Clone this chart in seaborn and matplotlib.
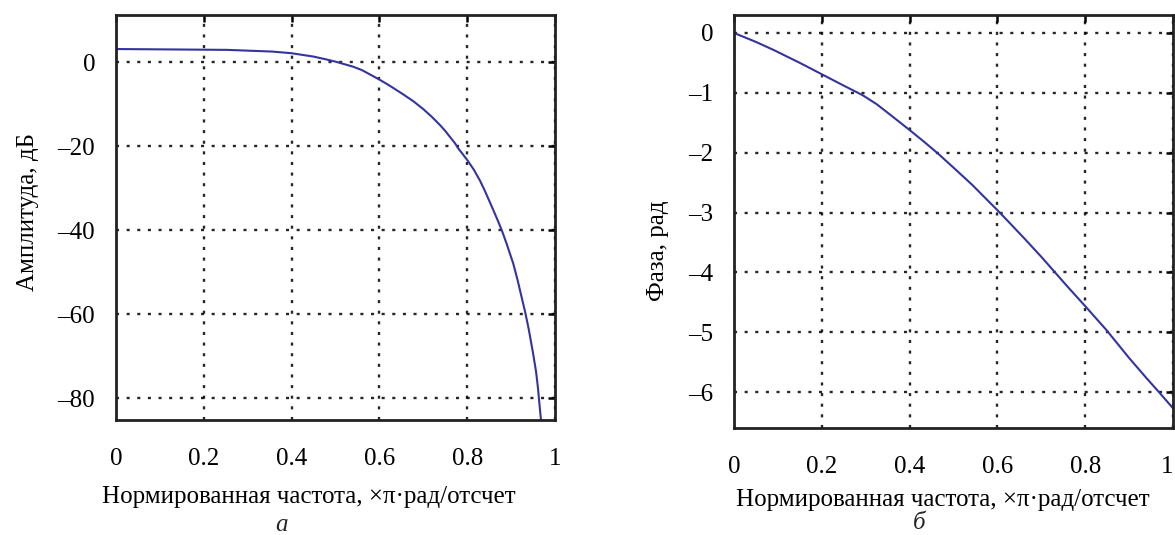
import numpy as np
import matplotlib
matplotlib.use('Agg')
import matplotlib.pyplot as plt
import seaborn as sns

# amplitude response
freq_amp = [0.0, 0.253, 0.355, 0.40, 0.45, 0.48, 0.50, 0.54, 0.56, 0.597, 0.62, 0.65,
            0.677, 0.70, 0.72, 0.738, 0.75, 0.772, 0.78, 0.80, 0.815, 0.829, 0.84,
            0.856, 0.87, 0.879, 0.89, 0.905, 0.915, 0.932, 0.94, 0.95, 0.957, 0.961, 0.968]
amp_db = [3.1, 2.9, 2.5, 2.1, 1.3, 0.6, 0.1, -1.1, -1.9, -4.0, -5.4, -7.4,
          -9.3, -11.2, -13.1, -15.0, -16.4, -19.3, -20.6, -23.3, -25.6, -28.2, -30.6,
          -34.4, -37.8, -40.1, -43.3, -48.0, -52.0, -59.5, -63.5, -69.3, -73.8, -77.4, -85.2]

# phase response
freq_ph = [0.0, 0.05, 0.089, 0.15, 0.2, 0.25, 0.293, 0.325, 0.36, 0.398, 0.43, 0.464,
           0.50, 0.543, 0.57, 0.6, 0.63, 0.661, 0.70, 0.73, 0.76, 0.802, 0.848,
           0.90, 0.94, 0.968, 1.0]
phase_rad = [0.0, -0.15, -0.28, -0.5, -0.69, -0.88, -1.04, -1.19, -1.39, -1.61, -1.80, -2.01,
             -2.25, -2.54, -2.74, -2.96, -3.19, -3.43, -3.74, -3.99, -4.24, -4.58, -4.96,
             -5.43, -5.77, -6.0, -6.27]

x_ticks = [0, 0.2, 0.4, 0.6, 0.8, 1]
x_ticklabels = ['0', '0.2', '0.4', '0.6', '0.8', '1']
amp_ticks = [0, -20, -40, -60, -80]
amp_ticklabels = ['0', '\u201320', '\u201340', '\u201360', '\u201380']
ph_ticks = [0, -1, -2, -3, -4, -5, -6]
ph_ticklabels = ['0', '\u20131', '\u20132', '\u20133', '\u20134', '\u20135', '\u20136']

xlabel = 'Нормированная частота, \u00d7\u03c0\u00b7рад/отсчет'

sns.set_theme(style='white')
plt.rcParams['font.family'] = ['Liberation Serif', 'DejaVu Serif']

line_color = '#34349e'
fs = 18

fig = plt.figure(figsize=(11.75, 5.35), dpi=100)
ax1 = fig.add_axes([116 / 1175, 1 - 420 / 535, 439 / 1175, 405 / 535])
ax2 = fig.add_axes([734 / 1175, 1 - 428 / 535, 439 / 1175, 413 / 535])

sns.lineplot(x=freq_amp, y=amp_db, ax=ax1, color=line_color, linewidth=1.5)
sns.lineplot(x=freq_ph, y=phase_rad, ax=ax2, color=line_color, linewidth=1.5)

ax1.set_xlim(0, 1)
ax1.set_ylim(-85.2, 11.2)
ax1.set_yticks(amp_ticks)
ax1.set_yticklabels(amp_ticklabels)

ax2.set_xlim(0, 1)
ax2.set_ylim(-6.6, 0.3)
ax2.set_yticks(ph_ticks)
ax2.set_yticklabels(ph_ticklabels)

for ax in (ax1, ax2):
    ax.set_xticks(x_ticks)
    ax.set_xticklabels(x_ticklabels)
    ax.grid(True, color='black', linestyle=(0, (1.3, 3.2)), linewidth=1.7, alpha=0.85)
    ax.tick_params(axis='both', direction='in', top=True, right=True,
                   length=5, width=1.8, labelsize=fs, color='black', labelcolor='black')
    ax.tick_params(axis='x', pad=20)
    ax.tick_params(axis='y', pad=15)
    for sp in ax.spines.values():
        sp.set_color('#222222')
        sp.set_linewidth(2)
    ax.set_xlabel(xlabel, fontsize=fs, color='black')
    ax.xaxis.label.set_va('center')
    ax.yaxis.label.set_va('center')

# keep the last phase tick label inside the figure
ax2.get_xticklabels()[-1].set_ha('right')

ax1.set_ylabel('Амплитуда, дБ', fontsize=fs, color='black')
ax2.set_ylabel('Фаза, рад', fontsize=fs, color='black')

ax1.xaxis.set_label_coords(0.44, -0.19)
ax1.yaxis.set_label_coords(-0.2, 0.514)
ax2.xaxis.set_label_coords(0.475, -0.175)
ax2.yaxis.set_label_coords(-0.173, 0.43)

fig.text(281 / 1175, 0.018, 'а', fontsize=fs, style='italic', ha='center', va='center')
fig.text(919 / 1175, 0.022, 'б', fontsize=fs, style='italic', ha='center', va='center')

fig.savefig('out.png', dpi=100, facecolor='white')
